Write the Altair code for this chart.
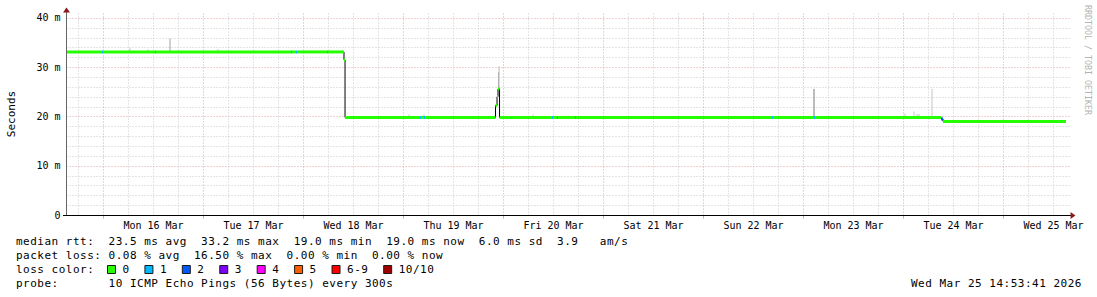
import altair as alt
import pandas as pd

# ---------------- data ----------------
# median RTT, stepwise (ms); loss = number of lost pings in that step
med_time = [
    "2026-03-15T15:07", "2026-03-15T23:46", "2026-03-16T00:00", "2026-03-16T12:29",
    "2026-03-16T12:43", "2026-03-17T21:07", "2026-03-17T21:22", "2026-03-17T22:19",
    "2026-03-17T22:34", "2026-03-18T05:46", "2026-03-18T06:00", "2026-03-18T09:50",
    "2026-03-18T10:05", "2026-03-19T04:05", "2026-03-19T04:19", "2026-03-19T05:02",
    "2026-03-19T05:17", "2026-03-19T22:12", "2026-03-19T22:34", "2026-03-19T22:48",
    "2026-03-19T23:10", "2026-03-20T11:46", "2026-03-20T12:00", "2026-03-20T12:58",
    "2026-03-20T13:12", "2026-03-20T17:17", "2026-03-20T17:31", "2026-03-22T16:34",
    "2026-03-22T16:48", "2026-03-23T02:38", "2026-03-23T02:53", "2026-03-24T09:07",
    "2026-03-24T09:36", "2026-03-25T15:07",
]
med_value = [
    33.1, 33.1, 33.1, 33.1,
    33.1, 33.1, 33.1, 33.1,
    33.1, 33.1, 33.1, 31.5,
    19.8, 19.8, 19.8, 19.8,
    19.8, 22.2, 24.0, 25.6,
    19.8, 19.8, 19.8, 19.8,
    19.8, 19.8, 19.8, 19.8,
    19.8, 19.8, 19.8, 19.5,
    19.0, 19.0,
]
med_loss = [
    "0", "1", "0", "1",
    "0", "1", "0", "1",
    "0", "1", "0", "0",
    "0", "1", "0", "1",
    "0", "0", "0", "0",
    "0", "1", "0", "1",
    "0", "1", "0", "1",
    "0", "1", "0", "2",
    "0", "0",
]

# smoke (spread of the individual pings), low/high in ms
smoke_time = [
    "2026-03-16T06:29", "2026-03-16T10:48", "2026-03-16T16:05", "2026-03-17T03:36",
    "2026-03-19T01:26", "2026-03-19T05:02", "2026-03-19T22:55", "2026-03-19T23:03",
    "2026-03-20T07:12", "2026-03-23T02:38", "2026-03-24T00:29", "2026-03-24T02:38",
    "2026-03-24T03:22", "2026-03-24T03:50", "2026-03-24T06:58",
]
smoke_low = [33.1, 33.1, 33.1, 33.1, 19.8, 19.8, 25.6, 25.0, 19.8, 19.8, 19.8, 19.8, 19.8, 19.8, 19.8]
smoke_high = [33.9, 33.6, 35.8, 33.7, 20.4, 20.4, 29.0, 30.2, 20.4, 25.6, 20.6, 21.0, 20.5, 20.5, 25.6]
smoke_shade = ["#c4c4c4", "#c4c4c4", "#a0a0a0", "#c4c4c4", "#c8c8c8", "#c8c8c8", "#a8a8a8",
               "#bcbcbc", "#c8c8c8", "#7a7a7a", "#c8c8c8", "#c8c8c8", "#c8c8c8", "#c8c8c8", "#c6c6c6"]

loss_labels = ["0", "1", "2", "3", "4", "5", "6-9", "10/10"]
loss_colors = ["#26ff00", "#00b8ff", "#0059ff", "#7e00ff", "#ff00ff", "#ff5e00", "#ff0000", "#a10000"]

y_major = [0, 10, 20, 30, 40]
y_minor = [v for v in range(2, 40, 2) if v % 10 != 0]
day_labels = [f"2026-03-{d:02d}T12:00" for d in range(16, 26)]
day_starts = [f"2026-03-{d:02d}T00:00" for d in range(16, 26)]
x_start, x_end = "2026-03-15T15:07", "2026-03-25T15:50:12"

stats_lines = [
    "median rtt:  23.5 ms avg  33.2 ms max  19.0 ms min  19.0 ms now  6.0 ms sd  3.9   am/s",
    "packet loss: 0.08 % avg  16.50 % max  0.00 % min  0.00 % now",
    "loss color:",
    "probe:       10 ICMP Echo Pings (56 Bytes) every 300s",
]
stamp = "Wed Mar 25 14:53:41 2026"
watermark = "RRDTOOL / TOBI OETIKER"
y_title = "Seconds"

# ---------------- layout ----------------
FONT = "DejaVu Sans Mono"
W, H, L, T = 1003, 202, 66, 13
PITCH = 7.12
MAJOR = "#e2a2a2"
MINOR = "#cbcbcb"


def ms(s):
    return int(pd.Timestamp(s, tz="UTC").value // 10**6)


def iso(s):
    return pd.Timestamp(s, tz="UTC").strftime("%Y-%m-%dT%H:%M:%SZ")


six_hours = []
t = pd.Timestamp("2026-03-15T18:00", tz="UTC")
while t <= pd.Timestamp(x_end, tz="UTC"):
    if t.hour != 0:
        six_hours.append(int(t.value // 10**6))
    t += pd.Timedelta(hours=6)

med = pd.DataFrame({"t": [iso(s) for s in med_time], "v": med_value, "loss": med_loss})
seg = med.iloc[:-1].copy()
seg["t2"] = med["t"].iloc[1:].values
smoke = pd.DataFrame({"t": [iso(s) for s in smoke_time], "lo": smoke_low, "hi": smoke_high, "c": smoke_shade})

xs = alt.Scale(type="utc", domain=[ms(x_start), ms(x_end)], nice=False)
ys = alt.Scale(domain=[0, 41], nice=False, zero=False)

ax_major_x = alt.Axis(orient="bottom", values=[ms(s) for s in day_starts], grid=True, gridColor=MAJOR,
                      gridDash=[1, 2], labels=False, ticks=True, tickColor=MAJOR, tickSize=3,
                      domain=False, title=None)
ax_major_y = alt.Axis(orient="left", values=y_major, grid=True, gridColor=MAJOR, gridDash=[1, 2],
                      labelExpr="datum.value == 0 ? '0\u00a0\u00a0' : datum.value + ' m'",
                      labelFont=FONT, labelFontSize=10, labelColor="#000", labelPadding=6,
                      ticks=False, domain=False, title=y_title, titleX=-55, titleY=100.5,
                      titleAngle=270, titleAlign="center", titleBaseline="middle", titleFont=FONT,
                      titleFontSize=11, titleFontWeight="normal", titleColor="#000")
ax_minor_x = alt.Axis(orient="bottom", values=six_hours, grid=True, gridColor=MINOR, gridDash=[1, 2],
                      labels=False, ticks=False, domain=False, title=None)
ax_minor_y = alt.Axis(orient="left", values=y_minor, grid=True, gridColor=MINOR, gridDash=[1, 2],
                      labels=False, ticks=False, domain=False, title=None)
ax_label_x = alt.Axis(orient="bottom", values=[ms(s) for s in day_labels], grid=False, ticks=False,
                      domain=False, labelExpr="utcFormat(datum.value, '%a %d %b')", labelFont=FONT,
                      labelFontSize=10, labelColor="#000", labelPadding=13,
                      labelBaseline="alphabetic", labelAlign="center", labelFlush=False,
                      labelOverlap=False, title=None)

smoke_layer = alt.Chart(smoke).mark_rule(strokeWidth=1).encode(
    x=alt.X("t:T", scale=xs, axis=ax_major_x),
    y=alt.Y("lo:Q", scale=ys, axis=ax_major_y),
    y2="hi:Q",
    color=alt.Color("c:N", scale=None),
)

step_layer = alt.Chart(med).mark_line(interpolate="step-after", color="#000", strokeWidth=1).encode(
    x=alt.X("t:T", scale=xs, axis=ax_minor_x),
    y=alt.Y("v:Q", scale=ys, axis=ax_minor_y),
)

seg_layer = alt.Chart(seg).mark_rule(strokeWidth=3, strokeCap="butt").encode(
    x=alt.X("t:T", scale=xs, axis=ax_label_x),
    x2="t2:T",
    y=alt.Y("v:Q", scale=ys, axis=None),
    color=alt.Color("loss:N", scale=alt.Scale(domain=loss_labels, range=loss_colors), legend=None),
)

one = pd.DataFrame({"a": [0]})
left_axis = alt.Chart(one).mark_rule(color="#666", strokeWidth=1).encode(
    x=alt.value(0.5), y=alt.value(-5), y2=alt.value(H))
bottom_axis = alt.Chart(one).mark_rule(color="#000", strokeWidth=1).encode(
    x=alt.value(-3), x2=alt.value(W + 3), y=alt.value(H + 0.5))
arrow_up = alt.Chart(one).mark_point(shape="M-1,0.7L0,-0.7L1,0.7Z", filled=True, size=49,
                                     color="#8b1a1a", opacity=1).encode(
    x=alt.value(0.5), y=alt.value(-3))
arrow_right = alt.Chart(one).mark_point(shape="M-0.7,-1L0.7,0L-0.7,1Z", filled=True, size=49,
                                        color="#8b1a1a", opacity=1).encode(
    x=alt.value(W + 4), y=alt.value(H + 0.5))

# text below the graph, one glyph per monospace column
rows = []
baselines = [245, 259, 273, 287]
for line, b in zip(stats_lines, baselines):
    for i, c in enumerate(line):
        if c != " ":
            rows.append({"px": 16 - L + i * PITCH, "py": b - T, "ch": c})
for i, c in enumerate(stamp):
    if c != " ":
        rows.append({"px": 911 - L + i * PITCH, "py": 287 - T, "ch": c})
boxes = []
bx = 107.5
for lab, col in zip(loss_labels, loss_colors):
    boxes.append({"x": bx - L, "x2": bx - L + 8, "y": 265.5 - T, "y2": 273.5 - T, "c": col})
    for i, c in enumerate(lab):
        rows.append({"px": bx + 15 - L + i * PITCH, "py": 273 - T, "ch": c})
    bx += 30.3 + PITCH * len(lab)

text_layer = alt.Chart(pd.DataFrame(rows)).mark_text(
    font=FONT, fontSize=11, align="left", baseline="alphabetic", color="#000").encode(
    x=alt.X("px:Q", scale=None, axis=None),
    y=alt.Y("py:Q", scale=None, axis=None),
    text="ch:N",
)
box_layer = alt.Chart(pd.DataFrame(boxes)).mark_rect(stroke="#1a1a1a", strokeWidth=1).encode(
    x=alt.X("x:Q", scale=None, axis=None), x2="x2:Q",
    y=alt.Y("y:Q", scale=None, axis=None), y2="y2:Q",
    color=alt.Color("c:N", scale=None),
)
wm_layer = alt.Chart(pd.DataFrame({"s": [watermark]})).mark_text(
    font=FONT, fontSize=8.3, angle=90, align="left", baseline="middle", color="#b4b4b4").encode(
    x=alt.value(1087 - L), y=alt.value(5 - T), text="s:N")

chart = alt.layer(
    smoke_layer, step_layer, seg_layer, left_axis, bottom_axis, arrow_up, arrow_right,
    text_layer, box_layer, wm_layer,
).resolve_axis(x="independent", y="independent").properties(
    width=W, height=H,
    padding={"left": L, "top": T, "right": 1097 - L - W, "bottom": 297 - T - H},
    autosize=alt.AutoSizeParams(type="none"),
    background="#ffffff",
).configure_view(stroke=None)

chart.save("out.html", embed_options={"renderer": "svg", "actions": False})
